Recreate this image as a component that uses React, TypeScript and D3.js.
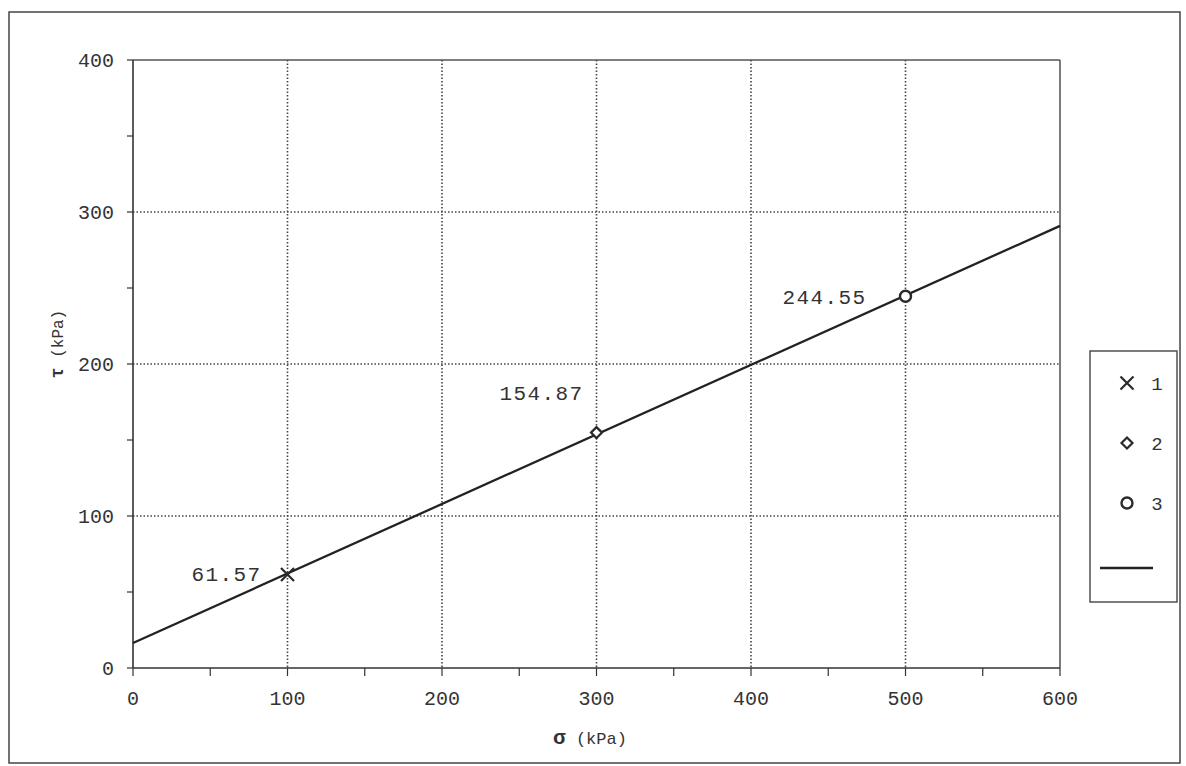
import React from "react";
import * as d3 from "d3";

const sigma = [100, 300, 500];
const tau = [61.57, 154.87, 244.55];
const pointLabels = ["61.57", "154.87", "244.55"];
const seriesNames = ["1", "2", "3"];
const symbols = ["cross", "diamond", "circle"];
const xTicks = [0, 100, 200, 300, 400, 500, 600];
const yTicks = [0, 100, 200, 300, 400];
const xMinor = [50, 150, 250, 350, 450, 550];
const yMinor = [50, 150, 250, 350];

const W = 1186, H = 766;
const M = { left: 133, right: 1060, top: 60, bottom: 668 };
const mono = "'Liberation Mono', 'Courier New', 'DejaVu Sans Mono', monospace";
const ink = "#2a2a2a";

function Marker({ type, x, y }: { type: string; x: number; y: number }) {
  if (type === "cross") {
    const s = 6.5;
    return <path d={`M${x - s},${y - s}L${x + s},${y + s}M${x - s},${y + s}L${x + s},${y - s}`} stroke={ink} strokeWidth={2.2} fill="none" />;
  }
  if (type === "diamond") {
    const s = 5.5;
    return <path d={`M${x},${y - s}L${x + s},${y}L${x},${y + s}L${x - s},${y}Z`} stroke={ink} strokeWidth={2.2} fill="white" />;
  }
  return <circle cx={x} cy={y} r={5.5} stroke={ink} strokeWidth={2.4} fill="white" />;
}

export default function App() {
  const x = d3.scaleLinear().domain([0, 600]).range([M.left, M.right]);
  const y = d3.scaleLinear().domain([0, 400]).range([M.bottom, M.top]);

  // least-squares trend line through the measured points
  const mx = d3.mean(sigma)!, my = d3.mean(tau)!;
  const slope = d3.sum(sigma.map((s, i) => (s - mx) * (tau[i] - my))) / d3.sum(sigma.map((s) => (s - mx) ** 2));
  const icpt = my - slope * mx;
  const lineData: [number, number][] = [0, 600].map((s) => [s, icpt + slope * s]);
  const line = d3.line<[number, number]>().x((d) => x(d[0])).y((d) => y(d[1]));

  const labelOffsets = [[-26, 7], [-13, -33], [-39, 8]];

  return (
    <svg width={W} height={H} style={{ position: "absolute", left: 0, top: 0, background: "white" }}>
      <rect x={9} y={12} width={1171} height={751} fill="white" stroke="#444" strokeWidth={1.5} />
      {/* grid */}
      {xTicks.filter((t) => t > 0 && t < 600).map((t) => (
        <line key={"gx" + t} x1={x(t)} x2={x(t)} y1={y(400)} y2={y(0)} stroke="#444" strokeWidth={1.6} strokeDasharray="1.5,2" />
      ))}
      {yTicks.filter((t) => t > 0 && t < 400).map((t) => (
        <line key={"gy" + t} x1={x(0)} x2={x(600)} y1={y(t)} y2={y(t)} stroke="#444" strokeWidth={1.6} strokeDasharray="1.5,2" />
      ))}
      {/* plot frame */}
      <line x1={x(0)} x2={x(600)} y1={y(400)} y2={y(400)} stroke="#555" strokeWidth={1.4} />
      <line x1={x(600)} x2={x(600)} y1={y(400)} y2={y(0)} stroke="#444" strokeWidth={1.4} />
      <line x1={x(0)} x2={x(600)} y1={y(0)} y2={y(0)} stroke="#333" strokeWidth={1.6} />
      <line x1={x(0)} x2={x(0)} y1={y(400)} y2={y(0)} stroke="#333" strokeWidth={1.6} />
      {/* ticks */}
      {xTicks.concat(xMinor).map((t) => (
        <line key={"tx" + t} x1={x(t)} x2={x(t)} y1={y(0)} y2={y(0) + 8} stroke="#333" strokeWidth={1.2} />
      ))}
      {yTicks.concat(yMinor).map((t) => (
        <line key={"ty" + t} x1={x(0) - 6} x2={x(0)} y1={y(t)} y2={y(t)} stroke="#333" strokeWidth={1.2} />
      ))}
      {xTicks.map((t) => (
        <text key={"lx" + t} x={x(t)} y={y(0) + 37} textAnchor="middle" fontFamily={mono} fontSize={20} fill="#333">{t}</text>
      ))}
      {yTicks.map((t) => (
        <text key={"ly" + t} x={x(0) - 19} y={y(t) + 7} textAnchor="end" fontFamily={mono} fontSize={20} fill="#333">{t}</text>
      ))}
      {/* axis titles */}
      <text x={590} y={744} textAnchor="middle" fontFamily={mono} fontSize={17} fill="#333">
        <tspan fontSize={21} fontWeight="bold">σ</tspan> (kPa)
      </text>
      <text transform={`translate(63,344) rotate(-90)`} textAnchor="middle" fontFamily={mono} fontSize={16} fill="#333">
        <tspan fontSize={18} fontWeight="bold">τ</tspan> (kPa)
      </text>
      {/* fit line */}
      <path d={line(lineData)!} stroke="#222" strokeWidth={2.3} fill="none" />
      {/* points */}
      {sigma.map((s, i) => (
        <g key={"p" + i}>
          <Marker type={symbols[i]} x={x(s)} y={y(tau[i])} />
          <text x={x(s) + labelOffsets[i][0]} y={y(tau[i]) + labelOffsets[i][1]} textAnchor="end" fontFamily={mono} fontSize={21} letterSpacing={1.4} fill="#333">{pointLabels[i]}</text>
        </g>
      ))}
      {/* legend */}
      <rect x={1090} y={351} width={87} height={251} fill="white" stroke="#444" strokeWidth={1.4} />
      {seriesNames.map((n, i) => (
        <g key={"lg" + i}>
          <Marker type={symbols[i]} x={1127} y={383 + i * 60} />
          <text x={1157} y={390 + i * 60} textAnchor="middle" fontFamily={mono} fontSize={19} fill="#333">{n}</text>
        </g>
      ))}
      <line x1={1100} x2={1153} y1={568} y2={568} stroke="#222" strokeWidth={2.3} />
    </svg>
  );
}
